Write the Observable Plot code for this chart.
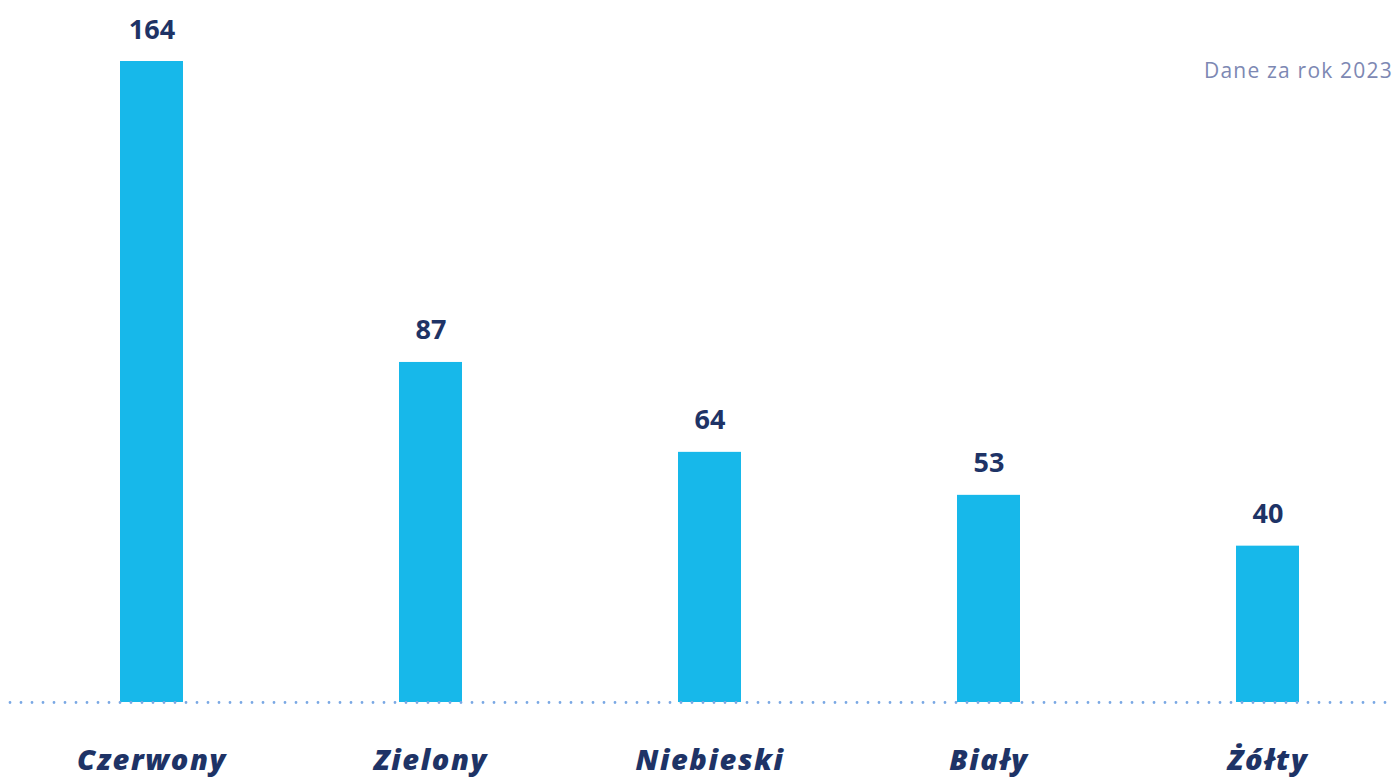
<!DOCTYPE html>
<html>
<head>
<meta charset="utf-8">
<script src="https://cdn.jsdelivr.net/npm/d3@7"></script>
<script src="https://cdn.jsdelivr.net/npm/@observablehq/plot@0.6"></script>
<style>
  html, body { margin: 0; padding: 0; background: #fff; overflow: hidden; }
  #wrap { position: relative; width: 1395px; height: 778px; overflow: hidden; }
  #note { position: absolute; left: 1204px; top: 56px; white-space: nowrap;
          font-family: "Open Sans", sans-serif; font-weight: 400; font-size: 21px;
          color: #7d88b3; letter-spacing: 1.2px; }
</style>
</head>
<body>
<div id="wrap"><div id="note">Dane za rok 2023</div></div>
<script>
const categories = ["Czerwony", "Zielony", "Niebieski", "Biały", "Żółty"];
const values = [164, 87, 64, 53, 40];
const data = categories.map((c, i) => ({category: c, value: values[i]}));

const navy = "#1e3366";
const chart = Plot.plot({
  width: 1395,
  height: 778,
  marginLeft: 10,
  marginRight: 5,
  marginTop: 61,
  marginBottom: 76,
  style: {fontFamily: "'Open Sans', sans-serif", background: "transparent", overflow: "visible"},
  x: {domain: categories, paddingInner: 0.7742, paddingOuter: 0.3602, align: 0.546, axis: null},
  y: {domain: [0, 164], axis: null},
  marks: [
    Plot.barY(data, {x: "category", y: "value", fill: "#17b8ea"}),
    Plot.ruleY([0], {stroke: "#7aa8e4", strokeWidth: 2.8, strokeLinecap: "round", strokeDasharray: "0 11"}),
    Plot.text(data, {x: "category", y: "value", text: d => String(d.value), lineAnchor: "bottom",
      dy: -23, fontSize: 27, fontWeight: 700, fill: navy}),
    Plot.text(data, {x: "category", frameAnchor: "bottom", text: "category", lineAnchor: "middle",
      dy: 58, fontSize: 29, fontWeight: 800, fontStyle: "italic", fill: navy})
  ]
});
const groups = chart.querySelectorAll('g[aria-label="text"]');
groups[groups.length - 1].setAttribute("letter-spacing", "1.6");
document.getElementById("wrap").prepend(chart);
</script>
</body>
</html>
